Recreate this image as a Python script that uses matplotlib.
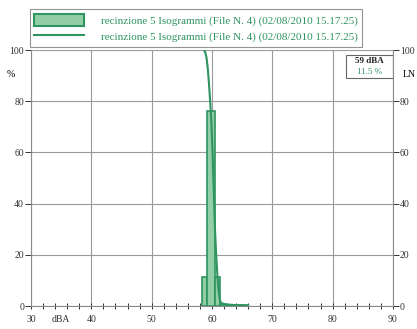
import matplotlib
matplotlib.use('Agg')
from matplotlib import pyplot as plt
from matplotlib.patches import Patch
from matplotlib.lines import Line2D

# histogram bins (dBA edges) and percentages
bin_left = [58.3, 59.1, 60.5, 61.4, 62.0, 63.0, 64.0, 65.0]
bin_width = [0.8, 1.4, 0.9, 0.6, 1.0, 1.0, 1.0, 1.0]
bin_pct = [11.5, 76.0, 11.5, 0.8, 0.5, 0.4, 0.3, 0.2]

# cumulative LN curve
ln_x = [58.7, 58.9, 59.1, 59.3, 59.5, 59.7, 59.9, 60.1, 60.3, 60.5, 60.7, 60.9, 61.1, 61.3, 61.5, 62.0, 63.0, 64.0, 65.0, 66.0]
ln_y = [100, 99, 97, 93, 87, 80, 72, 60, 45, 30, 20, 12, 6, 2.5, 1.2, 0.8, 0.5, 0.3, 0.2, 0.1]

label = 'recinzione 5 Isogrammi (File N. 4) (02/08/2010 15.17.25)'
green = '#2e9460'
fill = '#93cfa6'
serif = 'Liberation Serif'

fig = plt.figure(figsize=(4.17, 3.29), dpi=100)
ax = fig.add_axes([0.0743, 0.0699, 0.868, 0.778])

ax.bar(bin_left, bin_pct, width=bin_width, align='edge', color=fill,
       edgecolor=green, linewidth=1.2, zorder=3)
ax.plot(ln_x, ln_y, color=green, linewidth=1.5, zorder=4)

ax.set_xlim(30, 90)
ax.set_ylim(0, 100)
ax.set_xticks(range(30, 91, 10))
ax.set_xticks(range(30, 91, 2), minor=True)
ax.set_yticks(range(0, 101, 20))
ax.grid(True, which='major', color='#9a9a9a', linewidth=0.8)
ax.tick_params(axis='x', which='both', direction='inout', length=5, width=0.7,
               labelsize=7, pad=4, colors='#333333')
ax.tick_params(axis='y', which='both', direction='out', length=4, width=0.7,
               labelsize=7, pad=1, colors='#333333', right=True, labelright=True)
for lab in ax.get_xticklabels() + ax.get_yticklabels():
    lab.set_family(serif)
for s in ['top', 'bottom', 'left', 'right']:
    ax.spines[s].set_color('#8a8a8a')
    ax.spines[s].set_linewidth(0.8)
ax.spines['top'].set_visible(False)

ax.text(35, -3.5, 'dBA', fontsize=7, family=serif, ha='center', va='top', color='#333333')
ax.text(-0.055, 0.905, '%', transform=ax.transAxes, fontsize=7, family=serif, ha='center', va='center')
ax.text(1.045, 0.905, 'LN', transform=ax.transAxes, fontsize=7, family=serif, ha='center', va='center')

# annotation box
ax.text(0.935, 0.958, '59 dBA', transform=ax.transAxes, fontsize=6.5, family=serif,
        ha='center', va='center', color='#222222', fontweight='bold')
ax.text(0.935, 0.915, '11.5 %', transform=ax.transAxes, fontsize=6.5, family=serif,
        ha='center', va='center', color=green)
ax.add_patch(plt.Rectangle((0.87, 0.89), 0.13, 0.09, transform=ax.transAxes,
                           fill=False, edgecolor='#666666', linewidth=0.8, zorder=5))

handles = [Patch(facecolor=fill, edgecolor=green, linewidth=1.5),
           Line2D([0], [0], color=green, linewidth=1.5)]
leg = fig.legend(handles, [label, label], loc='lower left',
                 bbox_to_anchor=(0.072, 0.857, 0.796, 0.115), mode='expand',
                 prop={'family': serif, 'size': 8}, frameon=True, fancybox=False,
                 handlelength=4.5, handleheight=1.4, handletextpad=1.5,
                 borderaxespad=0, labelspacing=0.3, borderpad=0.4)
leg.get_frame().set_edgecolor('#777777')
leg.get_frame().set_linewidth(0.8)
for t in leg.get_texts():
    t.set_color(green)

fig.savefig('out.png', dpi=100)
